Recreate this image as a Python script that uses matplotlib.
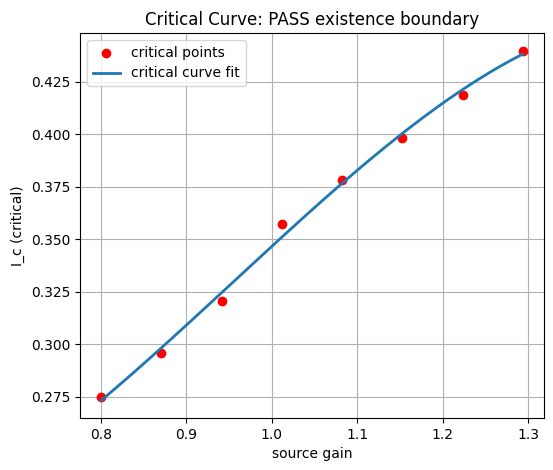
import numpy as np
import matplotlib
matplotlib.use('Agg')
import matplotlib.pyplot as plt

# critical points
source_gain = [0.8, 0.8706, 0.9412, 1.0118, 1.0824, 1.1529, 1.2235, 1.2941]
i_crit = [0.2750, 0.2959, 0.3206, 0.3572, 0.3781, 0.3985, 0.4189, 0.4400]

fig = plt.figure(figsize=(5.53, 4.70), dpi=100)
fig.subplots_adjust(left=80/553, right=544/553, top=1-33/470, bottom=1-418/470)
ax = fig.add_subplot()

ax.scatter(source_gain, i_crit, color='red', label='critical points', zorder=3)

# cubic fit through the points
coef = np.polyfit(source_gain, i_crit, 3)
xs = np.linspace(min(source_gain), max(source_gain), 200)
ax.plot(xs, np.polyval(coef, xs), lw=2, label='critical curve fit', zorder=4)

ax.set_xlabel('source gain')
ax.set_ylabel('I_c (critical)')
ax.set_title('Critical Curve: PASS existence boundary')
ax.grid(True)
ax.legend(loc='upper left')

fig.savefig('out.png', dpi=100)
